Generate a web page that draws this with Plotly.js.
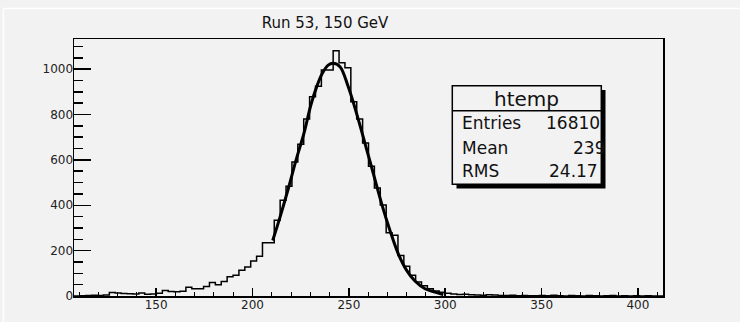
<!DOCTYPE html>
<html>
<head>
<meta charset="utf-8">
<script src="https://cdn.plot.ly/plotly-3.0.1.min.js"></script>
<style>
  html, body { margin: 0; padding: 0; background: #f2f2f2; }
  #chart { width: 740px; height: 322px; }
</style>
</head>
<body>
<div id="chart"></div>
<script>
// ---------------- data ----------------
const chartTitle = 'Run 53, 150 GeV';
// histogram binning (100 bins)
const binLow = 107.4;
const binWidth = 3.056;
// bin contents
const counts = [
  0, 1, 2, 3, 2, 4, 15, 13, 11, 10,
  9, 13, 8, 9, 12, 24, 20, 19, 21, 39,
  32, 32, 42, 59, 50, 64, 85, 91, 113, 128,
  154, 175, 235, 235, 334, 422, 484, 591, 669, 780,
  878, 925, 996, 996, 1081, 1028, 1006, 856, 780, 675,
  572, 476, 401, 279, 268, 179, 131, 91, 62, 45,
  32, 22, 17, 12, 9, 7, 8, 6, 4, 3,
  5, 4, 2, 2, 3, 1, 2, 1, 1, 2,
  1, 3, 1, 0, 2, 1, 0, 2, 1, 0,
  1, 2, 0, 1, 0, 1, 0, 1, 0, 0
];
// fitted gaussian, points
const fitX = [210.5, 214.3, 218.6, 222.6, 226.7, 230.3, 233.3, 236.2, 239.3, 241.8, 245.4, 249.7, 254.0, 258.4, 262.7, 267.0, 271.3, 275.6, 280.0, 284.3, 289.5, 294.7, 299.0];
const fitY = [245, 348, 474, 599, 717, 842, 922, 981, 1018, 1026, 1011, 922, 805, 672, 540, 407, 290, 187, 113, 66, 32, 17, 6];
// axis ticks
const xTickVals = [150, 200, 250, 300, 350, 400];
const yTickVals = [0, 200, 400, 600, 800, 1000];
// stats box
const statsName = 'htemp';
const statsLabels = ['Entries', 'Mean', 'RMS'];
const statsValues = ['16810', '239', '24.17'];

// ---------------- geometry helpers ----------------
const W = 740, H = 322;
const M = { l: 74, r: 77, t: 39, b: 26 };
const PW = W - M.l - M.r, PH = H - M.t - M.b;
const px2x = p => (p - M.l) / PW;
const py2y = p => (H - M.b - p) / PH;

// histogram outline (step)
const hx = [], hy = [];
for (let i = 0; i < counts.length; i++) {
  hx.push(binLow + i * binWidth);
  hy.push(counts[i]);
}
hx.push(binLow + counts.length * binWidth);
hy.push(counts[counts.length - 1]);

const FONT = 'DejaVu Sans, Liberation Sans, sans-serif';

const traces = [
  {
    type: 'scatter', mode: 'lines', x: hx, y: hy,
    line: { shape: 'hv', color: '#000', width: 1.5 },
    hoverinfo: 'skip', showlegend: false
  },
  {
    type: 'scatter', mode: 'lines', x: fitX, y: fitY,
    line: { shape: 'spline', smoothing: 1, color: '#000', width: 3 },
    hoverinfo: 'skip', showlegend: false
  }
];

// stats box geometry (pixels)
const bx0 = 452.3, bx1 = 601.3, by0 = 85.7, by1 = 184.3, bhead = 110.7, sh = 4.2;

const shapes = [
  // canvas bevel lines
  { type: 'line', xref: 'paper', yref: 'paper', x0: px2x(3.5), x1: px2x(740), y0: py2y(8.5), y1: py2y(8.5), line: { color: '#ffffff', width: 1.5 } },
  { type: 'line', xref: 'paper', yref: 'paper', x0: px2x(3.5), x1: px2x(3.5), y0: py2y(8.5), y1: py2y(322), line: { color: '#ffffff', width: 1.5 } },
  // stats box shadow
  { type: 'rect', xref: 'paper', yref: 'paper', layer: 'above', x0: px2x(bx0 + sh), x1: px2x(bx1 + sh), y0: py2y(by0 + sh), y1: py2y(by1 + sh), fillcolor: '#000', line: { width: 0 } },
  // stats box
  { type: 'rect', xref: 'paper', yref: 'paper', layer: 'above', x0: px2x(bx0), x1: px2x(bx1), y0: py2y(by0), y1: py2y(by1), fillcolor: '#f2f2f2', line: { color: '#000', width: 1.5 } },
  { type: 'line', xref: 'paper', yref: 'paper', layer: 'above', x0: px2x(bx0), x1: px2x(bx1), y0: py2y(bhead), y1: py2y(bhead), line: { color: '#000', width: 1.5 } }
];

const rowBase = [128.3, 152.7, 176.0];
const valRight = [601.3, 605.5, 599.3];
const SF = 17;
const TXT = '#111';
const annotations = [
  { xref: 'paper', yref: 'paper', x: px2x(526.7), y: py2y(105 - 0.3 * 20), xanchor: 'center', yanchor: 'middle', text: statsName, showarrow: false, font: { family: FONT, size: 20, color: TXT } }
];
for (let i = 0; i < statsLabels.length; i++) {
  annotations.push({ xref: 'paper', yref: 'paper', x: px2x(459.7), y: py2y(rowBase[i] - 0.3 * SF), xanchor: 'left', yanchor: 'middle', text: statsLabels[i], showarrow: false, font: { family: FONT, size: SF, color: TXT } });
  annotations.push({ xref: 'paper', yref: 'paper', x: px2x(valRight[i] + 1), y: py2y(rowBase[i] - 0.3 * SF), xanchor: 'right', yanchor: 'middle', text: statsValues[i], showarrow: false, font: { family: FONT, size: SF, color: TXT } });
}

const layout = {
  width: W, height: H,
  margin: M,
  paper_bgcolor: '#f2f2f2',
  plot_bgcolor: '#f2f2f2',
  font: { family: FONT, color: '#000' },
  showlegend: false,
  title: {
    text: chartTitle,
    x: 325 / W, xanchor: 'center', xref: 'container',
    y: 1 - 22.8 / H, yanchor: 'middle', yref: 'container',
    font: { family: FONT, size: 15, color: '#111' }
  },
  xaxis: {
    range: [binLow, 413],
    tickmode: 'array', tickvals: xTickVals, ticktext: xTickVals.map(String),
    ticks: 'inside', ticklen: 8, tickwidth: 1.5, tickcolor: '#000',
    minor: { dtick: 10, tick0: 0, ticks: 'inside', ticklen: 4, tickwidth: 1, tickcolor: '#000' },
    showline: true, linecolor: '#000', linewidth: 1.5, mirror: true,
    showgrid: false, zeroline: false,
    ticklabelstandoff: -3,
    tickfont: { family: FONT, size: 12, color: '#222' }
  },
  yaxis: {
    range: [0, 1133],
    tickmode: 'array', tickvals: yTickVals, ticktext: yTickVals.map(String),
    ticks: 'inside', ticklen: 17, tickwidth: 1.5, tickcolor: '#000',
    minor: { dtick: 50, tick0: 0, ticks: 'inside', ticklen: 9, tickwidth: 1.5, tickcolor: '#000' },
    showline: true, linecolor: '#000', linewidth: 1.5, mirror: true,
    showgrid: false, zeroline: false,
    ticklabelstandoff: -3,
    tickfont: { family: FONT, size: 12, color: '#222' }
  },
  shapes: shapes,
  annotations: annotations
};

Plotly.newPlot('chart', traces, layout, { staticPlot: true, displayModeBar: false });
</script>
</body>
</html>
